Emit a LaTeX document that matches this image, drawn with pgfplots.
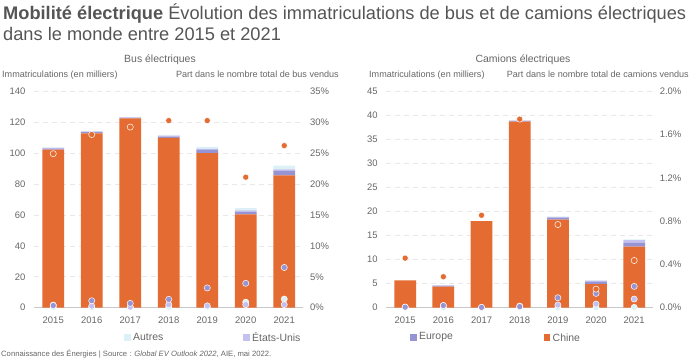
\documentclass[border=0pt]{standalone}
\usepackage{pgfplots}
\pgfplotsset{compat=1.18}
\usepackage{fontspec}
\setmainfont{Liberation Sans}
\definecolor{chine}{HTML}{E46B32}
\definecolor{europe}{HTML}{9794D3}
\definecolor{usa}{HTML}{C3C1EF}
\definecolor{autres}{HTML}{DCF1F5}
\definecolor{txt}{HTML}{666666}
\definecolor{ttl}{HTML}{555555}
\definecolor{gridc}{HTML}{E8E8E8}
\definecolor{axc}{HTML}{C8C8C8}
\pgfplotsset{
  chartbase/.style={
    scale only axis, height=216.5bp, xmin=-0.5, xmax=6.5, ymin=0,
    /pgf/number format/assume math mode=true,
    tick label style={font=\fontsize{9.5}{10}\selectfont, text=txt},
    major tick length=0pt,
  },
  prim/.style={chartbase,
    ybar stacked, bar width=0.57,
    axis x line*=bottom, axis y line*=left,
    x axis line style={draw=axc, line width=1.2bp},
    y axis line style={draw=none},
    xtick={0,...,6}, xticklabels={2015,2016,2017,2018,2019,2020,2021},
    xticklabel style={yshift=-6bp},
    ymajorgrids, grid style={gridc, dash pattern=on 5bp off 4bp, line width=0.6bp},
    yticklabel style={xshift=-5bp},
  },
  sec/.style={chartbase,
    axis x line=none, axis y line*=right,
    y axis line style={draw=none},
    yticklabel style={anchor=west, xshift=3bp},
  },
  bar/.style={fill=#1, draw=none},
  dot/.style={only marks, mark=*, mark size=3.1bp, mark options={fill=#1, draw=white, line width=0.5bp}},
}
\begin{document}
\begin{tikzpicture}[x=1bp,y=1bp]
\useasboundingbox (0,0) rectangle (700,359);
% ---------- Titles ----------
\node[anchor=base west, inner sep=0, font=\fontsize{18.3}{20}\selectfont, text=ttl] at (3,340) {\textbf{Mobilité électrique} Évolution des immatriculations de bus et de camions électriques};
\node[anchor=base west, inner sep=0, font=\fontsize{18.3}{20}\selectfont, text=ttl] at (3,319) {dans le monde entre 2015 et 2021};
\node[anchor=base, inner sep=0, font=\fontsize{10.5}{12}\selectfont, text=txt] at (160,297) {Bus électriques};
\node[anchor=base, inner sep=0, font=\fontsize{10.5}{12}\selectfont, text=txt] at (523,297) {Camions électriques};
\node[anchor=base west, inner sep=0, font=\fontsize{9.1}{10}\selectfont, text=txt] at (2,282) {Immatriculations (en milliers)};
\node[anchor=base east, inner sep=0, font=\fontsize{9.1}{10}\selectfont, text=txt] at (339,282) {Part dans le nombre total de bus vendus};
\node[anchor=base west, inner sep=0, font=\fontsize{9.1}{10}\selectfont, text=txt] at (369,282) {Immatriculations (en milliers)};
\node[anchor=base east, inner sep=0, font=\fontsize{9.1}{10}\selectfont, text=txt] at (689,282) {Part dans le nombre total de camions vendus};
\node[anchor=base west, inner sep=0, font=\fontsize{7.7}{9}\selectfont, text=txt] at (1,3) {Connaissance des Énergies | Source : \textit{Global EV Outlook 2022}, AIE, mai 2022.};
% ---------- Legends ----------
\fill[autres] (124,18.5) rectangle ++(6.5,6.5);
\node[anchor=west, inner sep=0, font=\fontsize{10.5}{11}\selectfont, text=txt] at (133,21.7) {Autres};
\fill[usa] (243,18.5) rectangle ++(6.5,6.5);
\node[anchor=west, inner sep=0, font=\fontsize{10.5}{11}\selectfont, text=txt] at (252,21.7) {États-Unis};
\fill[europe] (410,18.5) rectangle ++(6.5,6.5);
\node[anchor=west, inner sep=0, font=\fontsize{10.5}{11}\selectfont, text=txt] at (419,21.7) {Europe};
\fill[chine] (543.5,18.5) rectangle ++(6.5,6.5);
\node[anchor=west, inner sep=0, font=\fontsize{10.5}{11}\selectfont, text=txt] at (552.5,21.7) {Chine};
% ---------- Bus : registrations ----------
\begin{axis}[prim, at={(34bp,51.3bp)}, anchor=south west, width=269.5bp,
  ymax=140, ytick={0,20,...,140}]
\addplot[bar=chine] coordinates {(0,102.3) (1,112.8) (2,122.4) (3,109.8) (4,100.0) (5,60.3) (6,85.5)};
\addplot[bar=europe] coordinates {(0,0.4) (1,0.8) (2,0.3) (3,0.9) (4,2.0) (5,1.8) (6,3.0)};
\addplot[bar=usa] coordinates {(0,0.6) (1,0.5) (2,0.3) (3,0.5) (4,0.7) (5,0.8) (6,1.0)};
\addplot[bar=autres] coordinates {(0,0.4) (1,0.2) (2,0.4) (3,0.5) (4,1.3) (5,1.5) (6,2.3)};
\end{axis}
% ---------- Bus : shares ----------
\begin{axis}[sec, at={(34bp,51.3bp)}, anchor=south west, width=269.5bp,
  ymax=35, ytick={0,5,...,35}, yticklabel={\pgfmathprintnumber{\tick}\%}, clip=false]
\addplot[dot=autres] coordinates {(0,0.05) (1,0.05) (2,0.05) (3,0.1) (4,0.1) (5,0.9) (6,1.4)};
\addplot[dot=usa] coordinates {(0,0.43) (1,0.27) (2,0.1) (3,0.5) (4,0.3) (5,0.5) (6,0.5)};
\addplot[dot=europe] coordinates {(0,0.35) (1,1.13) (2,0.7) (3,1.35) (4,3.2) (5,3.94) (6,6.5)};
\addplot[dot=chine] coordinates {(0,24.9) (1,28.0) (2,29.2) (3,30.25) (4,30.25) (5,21.1) (6,26.2)};
\end{axis}
% ---------- Trucks : registrations ----------
\begin{axis}[prim, at={(386.1bp,51.3bp)}, anchor=south west, width=267.2bp,
  ymax=45, ytick={0,5,...,45}]
\addplot[bar=chine] coordinates {(0,5.7) (1,4.4) (2,18.0) (3,38.7) (4,18.3) (5,4.9) (6,12.7)};
\addplot[bar=europe] coordinates {(0,0.0) (1,0.15) (2,0.0) (3,0.2) (4,0.4) (5,0.45) (6,0.75)};
\addplot[bar=usa] coordinates {(0,0.0) (1,0.1) (2,0.0) (3,0.0) (4,0.2) (5,0.3) (6,0.6)};
\addplot[bar=autres] coordinates {(0,0.0) (1,0.0) (2,0.0) (3,0.0) (4,0.05) (5,0.05) (6,0.15)};
\end{axis}
% ---------- Trucks : shares ----------
\begin{axis}[sec, at={(386.1bp,51.3bp)}, anchor=south west, width=267.2bp,
  ymax=2, ytick={0,0.4,...,2.0},
  yticklabel={\pgfmathprintnumber[fixed,fixed zerofill,precision=1]{\tick}\%}, clip=false]
\addplot[dot=autres] coordinates {(0,0) (1,0) (2,0) (3,0) (4,0) (5,0) (6,0.003)};
\addplot[dot=usa] coordinates {(0,0.006) (1,0.02) (2,0.002) (3,0.015) (4,0.025) (5,0.034) (6,0.08)};
\addplot[dot=europe] coordinates {(0,0.005) (1,0.02) (2,0.003) (3,0.01) (4,0.092) (5,0.132) (6,0.197)};
\addplot[dot=chine] coordinates {(0,0.458) (1,0.286) (2,0.854) (3,1.742) (4,0.768) (5,0.172) (6,0.436)};
\end{axis}
\end{tikzpicture}
\end{document}
